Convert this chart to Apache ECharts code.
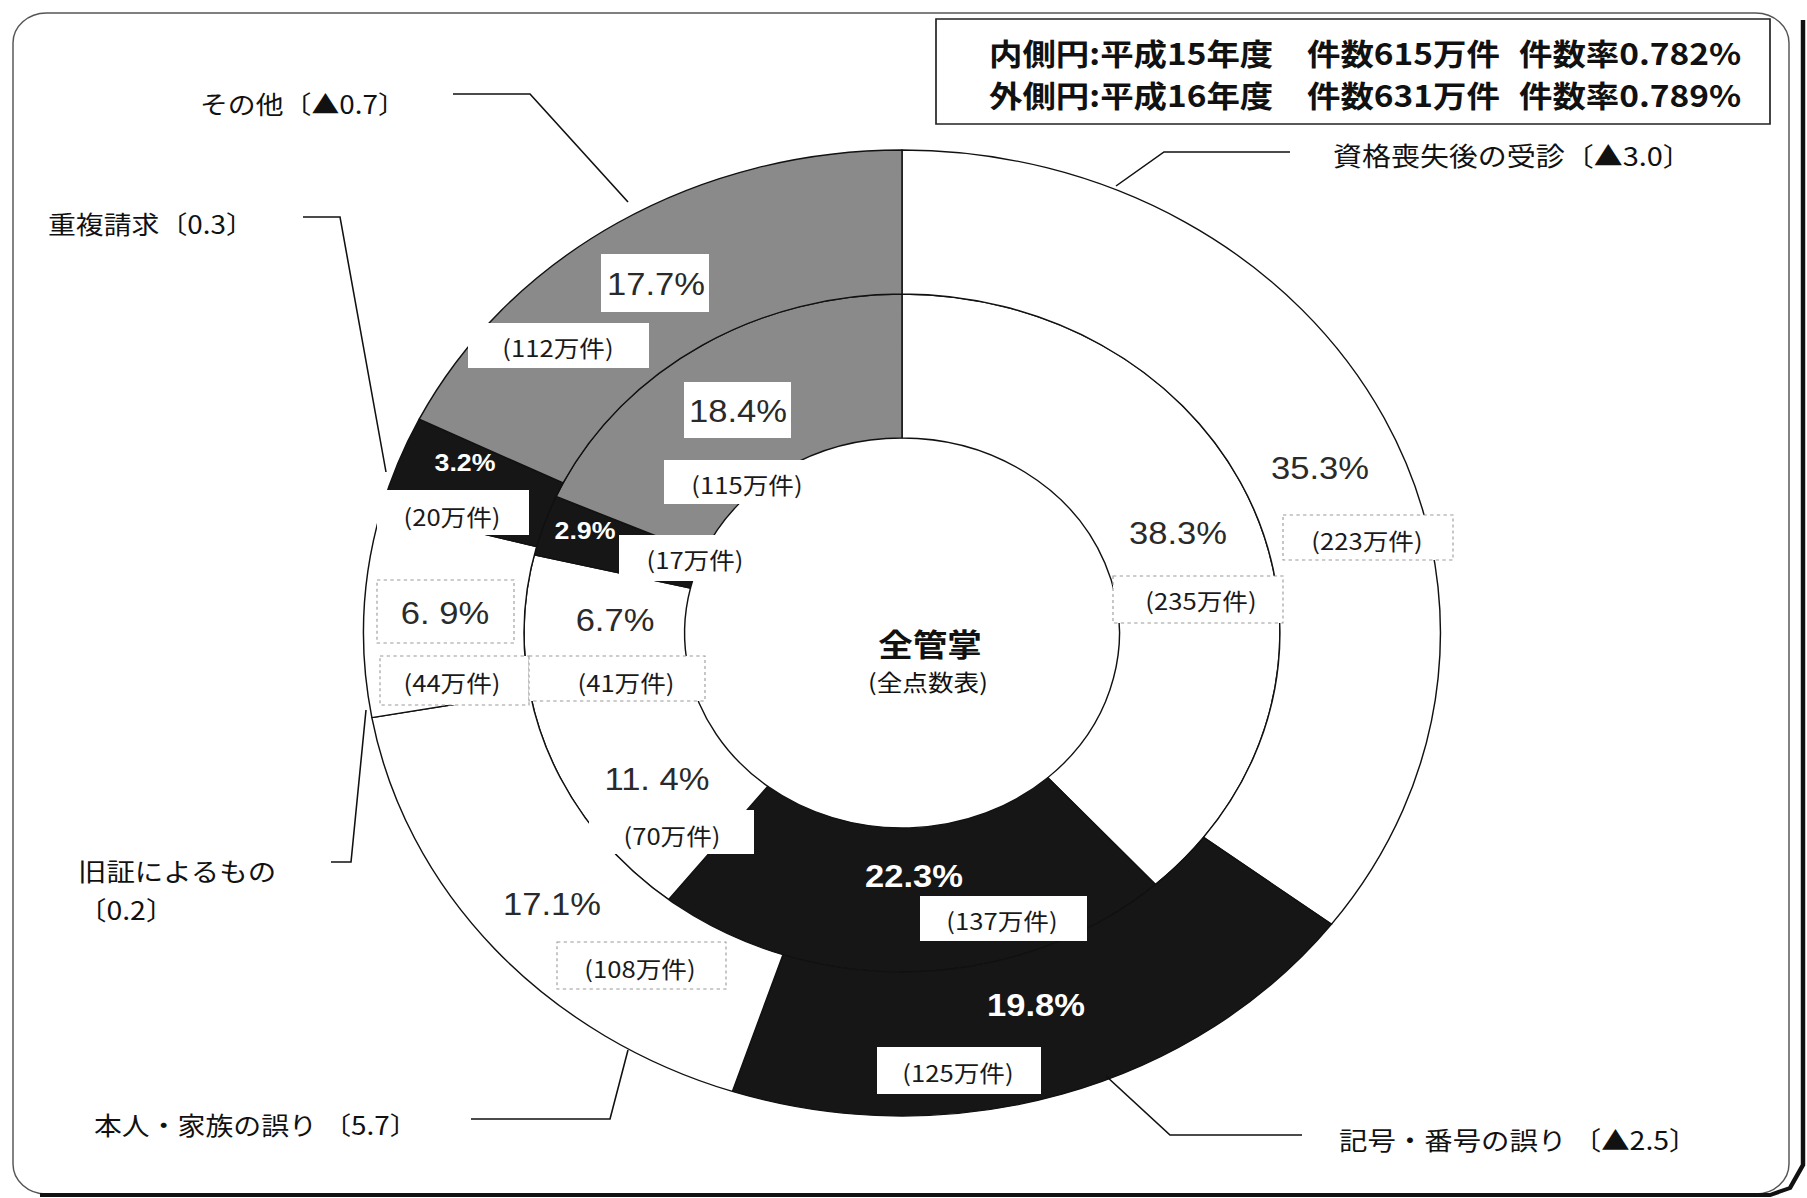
<!DOCTYPE html>
<html>
<head>
<meta charset="utf-8">
<script src="https://cdn.jsdelivr.net/npm/echarts/dist/echarts.min.js"></script>
<style>
html,body{margin:0;padding:0;background:#fff;overflow:hidden}
#wrap{width:1807px;height:1198px;position:relative;overflow:hidden;background:#fff}
#chart{position:absolute;left:0;top:0;width:1621px;height:1198px;transform:scaleX(1.1148);transform-origin:0 0}
</style>
</head>
<body>
<div id="wrap"><div id="chart"></div></div>
<script>
// ---------------- data ----------------
const categories = ['資格喪失後の受診', '記号・番号の誤り', '本人・家族の誤り', '旧証によるもの', '重複請求', 'その他'];
const innerPct = [38.3, 22.3, 11.4, 6.7, 2.9, 18.4];      // 平成15年度 (内側円)
const innerCount = [235, 137, 70, 41, 17, 115];            // 万件
const outerPct = [35.3, 19.8, 17.1, 6.9, 3.2, 17.7];      // 平成16年度 (外側円)
const outerCount = [223, 125, 108, 44, 20, 112];           // 万件
const changeLabels = ['▲3.0', '▲2.5', '5.7', '0.2', '0.3', '▲0.7'];
const ringNames = ['内側円', '外側円'];
const fiscalYears = ['平成15年度', '平成16年度'];
const totalCounts = [615, 631];
const totalRates = [0.782, 0.789];
const centerTitle = '全管掌';
const centerSub = '(全点数表)';

// ---------------- layout / style ----------------
const S = 1.1148;                 // horizontal stretch of the scanned original
const X = x => x / S;
const CX = 902, CY = 633;
const sliceColors = ['#ffffff', '#161616', '#ffffff', '#ffffff', '#161616', '#8a8a8a'];
const JP = '"Noto Sans CJK JP", "Noto Sans", sans-serif';
const NUM = '"Liberation Sans", Arial, sans-serif';

// label placement (centre points) per category
const outerPctPos = [[1320, 468], [1036, 1005], [552, 904], [445, 613], [465, 463], [656, 284]];
const outerCntPos = [[1367, 540], [958, 1072], [640, 968], [452, 682], [452, 516], [558, 347]];
const innerPctPos = [[1178, 533], [914, 876], [657, 779], [615, 620], [585, 531], [738, 411]];
const innerCntPos = [[1201, 600], [1002, 920], [672, 835], [626, 682], [695, 559], [747, 484]];
const pctStyle = [ // per category: [outer style, inner style]
  ['thin', 'thin'], ['white', 'white'], ['thin', 'thinSp'], ['thinSp', 'thin'], ['whiteSm', 'whiteSm'], ['thin', 'thin']
];
const boxes = [ // x, y, w, h, dashed
  [601, 254, 108, 58, false], [468, 323, 181, 45, false], [684, 382, 107, 56, false],
  [664, 460, 168, 44, false], [377, 490, 152, 45, false], [619, 535, 154, 46, false],
  [377, 580, 137, 63, true], [380, 656, 149, 49, true], [529, 656, 176, 45, true],
  [589, 810, 165, 44, false], [920, 896, 167, 45, false], [557, 942, 169, 47, true],
  [877, 1047, 164, 47, false], [1283, 515, 170, 45, true], [1113, 576, 170, 47, true]
];

// callouts: text lines, left x, y of first line, font size, leader polyline
const callouts = [
  { lines: [categories[0] + '〔' + changeLabels[0] + '〕'], x: 1333, y: 155, fs: 26, pts: [[1290, 152], [1164, 152], [1116, 186]] },
  { lines: [categories[1] + ' 〔' + changeLabels[1] + '〕'], x: 1339, y: 1139, fs: 25.5, pts: [[1302, 1135], [1170, 1135], [1106, 1076]] },
  { lines: [categories[2] + ' 〔' + changeLabels[2] + '〕'], x: 94, y: 1124, fs: 25, pts: [[471, 1119], [610, 1119], [628, 1050]] },
  { lines: [categories[3], '〔' + changeLabels[3] + '〕'], x: 78, y: 870, fs: 25.5, pts: [[331, 862], [351, 862], [366, 710]] },
  { lines: [categories[4] + '〔' + changeLabels[4] + '〕'], x: 48, y: 223, fs: 25, pts: [[303, 217], [340, 217], [386, 472]] },
  { lines: [categories[5] + '〔' + changeLabels[5] + '〕'], x: 200, y: 103, fs: 25, pts: [[453, 94], [530, 94], [628, 202]] }
];

// ---------------- build ----------------
function fmtPct(v, spaced) {
  const s = v.toFixed(1);
  return spaced ? s.replace('.', '. ') + '%' : s + '%';
}
function pctText(cx, cy, v, kind) {
  const white = kind.indexOf('white') === 0;
  const size = kind === 'whiteSm' ? 24 : 31;
  return {
    type: 'text', z: 20, x: X(cx), y: cy,
    style: {
      text: fmtPct(v, kind === 'thinSp'),
      fontFamily: NUM, fontSize: size, fontWeight: white ? 'bold' : 'normal',
      fill: white ? '#ffffff' : '#2a2a2a',
      align: 'center', verticalAlign: 'middle', textAlign: 'center', textVerticalAlign: 'middle'
    }
  };
}
function cntText(cx, cy, n) {
  return {
    type: 'text', z: 20, x: X(cx), y: cy,
    style: {
      text: '(' + n + '万件)', fontFamily: JP, fontSize: 23, fill: '#1a1a1a',
      align: 'center', verticalAlign: 'middle', textAlign: 'center', textVerticalAlign: 'middle'
    }
  };
}

const graphics = [];
// outer frame
graphics.push({ type: 'rect', z: 1, shape: { x: X(13), y: 13, width: X(1789) - X(13), height: 1181, r: 30 },
  style: { fill: null, stroke: '#555', lineWidth: 1.3 } });
graphics.push({ type: 'polyline', z: 1, shape: { points: [[X(1803), 20], [X(1803), 1165], [X(1790), 1188], [X(1770), 1195], [X(40), 1195]] },
  style: { fill: null, stroke: '#111', lineWidth: 4 } });

// legend box
graphics.push({ type: 'rect', z: 20, shape: { x: X(936), y: 19, width: X(1770) - X(936), height: 105 },
  style: { fill: '#fff', stroke: '#222', lineWidth: 1.5 } });
for (let i = 0; i < 2; i++) {
  const y = i === 0 ? 52 : 94;
  const parts = [
    [989, ringNames[i] + ':' + fiscalYears[i]],
    [1307, '件数' + totalCounts[i] + '万件'],
    [1519, '件数率' + totalRates[i].toFixed(3) + '%']
  ];
  parts.forEach(p => graphics.push({
    type: 'text', z: 21, x: X(p[0]), y: y,
    style: { text: p[1], fontFamily: JP, fontSize: 30, fontWeight: 'bold', fill: '#111',
      align: 'left', verticalAlign: 'middle', textAlign: 'left', textVerticalAlign: 'middle' }
  }));
}

// label boxes
boxes.forEach(b => graphics.push({
  type: 'rect', z: 15, shape: { x: X(b[0]), y: b[1], width: b[2] / S, height: b[3] },
  style: b[4] ? { fill: '#fff', stroke: '#9a9a9a', lineWidth: 1, lineDash: [3, 3] } : { fill: '#fff', stroke: null }
}));

// percentage / count labels
categories.forEach((c, i) => {
  graphics.push(pctText(outerPctPos[i][0], outerPctPos[i][1], outerPct[i], pctStyle[i][0]));
  graphics.push(cntText(outerCntPos[i][0], outerCntPos[i][1], outerCount[i]));
  graphics.push(pctText(innerPctPos[i][0], innerPctPos[i][1], innerPct[i], pctStyle[i][1]));
  graphics.push(cntText(innerCntPos[i][0], innerCntPos[i][1], innerCount[i]));
});

// callouts
callouts.forEach(co => {
  co.lines.forEach((t, k) => graphics.push({
    type: 'text', z: 20, x: X(co.x), y: co.y + k * 39,
    style: { text: t, fontFamily: JP, fontSize: co.fs, fill: '#111',
      align: 'left', verticalAlign: 'middle', textAlign: 'left', textVerticalAlign: 'middle' }
  }));
  graphics.push({ type: 'polyline', z: 19, shape: { points: co.pts.map(p => [X(p[0]), p[1]]) },
    style: { fill: null, stroke: '#111', lineWidth: 1.4 } });
});

// centre title
graphics.push({ type: 'text', z: 20, x: X(930), y: 642,
  style: { text: centerTitle, fontFamily: JP, fontSize: 31, fontWeight: 'bold', fill: '#111',
    align: 'center', verticalAlign: 'middle', textAlign: 'center', textVerticalAlign: 'middle' } });
graphics.push({ type: 'text', z: 20, x: X(928), y: 681,
  style: { text: centerSub, fontFamily: JP, fontSize: 23, fill: '#111',
    align: 'center', verticalAlign: 'middle', textAlign: 'center', textVerticalAlign: 'middle' } });

function ring(r0, r1, pcts, name) {
  return {
    type: 'pie', name: name, radius: [r0, r1], center: [X(CX), CY],
    startAngle: 90, clockwise: true, silent: true, animation: false,
    avoidLabelOverlap: false, label: { show: false }, labelLine: { show: false },
    itemStyle: { borderColor: '#111', borderWidth: 1.3 },
    emphasis: { disabled: true },
    data: categories.map((c, i) => ({ name: c, value: pcts[i], itemStyle: { color: sliceColors[i] } }))
  };
}

const chart = echarts.init(document.getElementById('chart'), null, { renderer: 'svg' });
chart.setOption({
  backgroundColor: '#ffffff',
  animation: false,
  series: [
    ring(195, 339, innerPct, fiscalYears[0]),
    ring(339, 483, outerPct, fiscalYears[1])
  ],
  graphic: { elements: graphics }
});
</script>
</body>
</html>
